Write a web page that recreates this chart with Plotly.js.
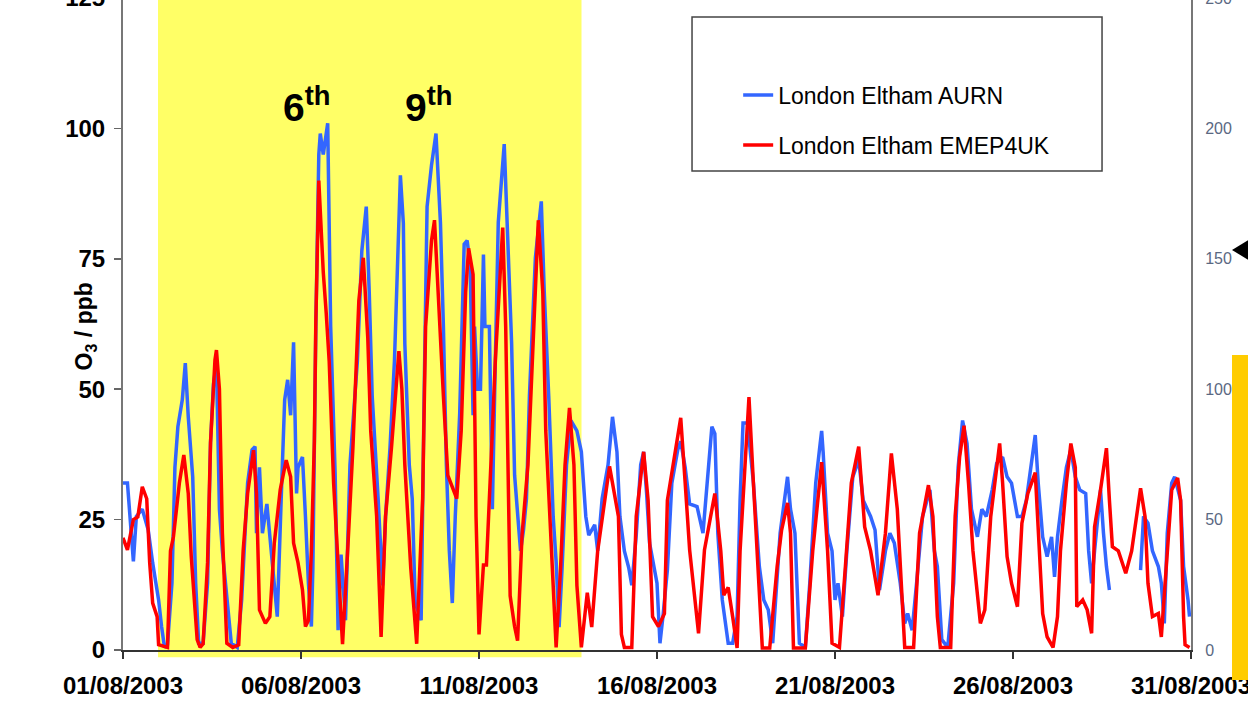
<!DOCTYPE html>
<html><head><meta charset="utf-8">
<script src="https://cdn.plot.ly/plotly-3.0.1.min.js"></script>
<style>
html,body{margin:0;padding:0;overflow:hidden;background:#fff;width:1248px;height:713px}
#chart{position:absolute;left:0;top:-10px;width:1248px;height:725px}
</style>
</head><body><div id="chart"></div>
<script>
// Hours since 01/08/2003 00:00 and O3 (ppb)
const aurnHours = [0,3,7,9,13,17,20,24,26,28,30,33,35,37,40,42,44,47,49,51,54,57,59,61,63,65,67,71,73,77,80,84,87,89,90,92,94,97,99,101,104,107,109,111,113,115,116,117,118,121,123,125,127,128,130,132,133,135,138,139,140,143,145,147,150,153,158,161,164,166,168,172,175,177,180,183,185,187,189,190,193,195,197,201,203,205,208,211,214,216,218,220,222,224,227,230,232,234,236,237,239,241,243,244,247,248,249,251,253,257,259,262,264,268,270,272,274,278,282,284,287,290,292,294,296,299,302,306,309,312,314,318,320,323,327,330,333,335,338,341,343,346,349,351,353,355,360,362,364,367,370,374,376,379,382,387,391,394,397,399,401,404,408,411,414,416,418,421,425,429,432,435,438,443,448,450,453,456,460,463,467,470,471,472,475,478,480,482,485,488,492,496,499,504,507,510,514,517,520,524,527,529,532,535,539,544,547,549,552,556,560,563,566,569,572,576,579,582,586,589,593,596,599,603,606,609,613,615,617,620,623,626,628,630,633,636,639,642,645,649,651,653,655,659,661,663,665,675,686,688,691,694,698,700,702,704,707,709,713,715,718,719];
const aurnValues = [32,32,17,25.6,27,23,16.7,9.6,4.5,0.5,1,12.8,35,42.8,48,55,44.7,33.2,12.8,1.3,1.3,12.8,39.7,51,55,27,19,6.4,1.3,0.5,9.6,32,38.4,39,22.4,35,22.4,28,21.7,16,6.4,32,48,51.8,45,59,45,30,35,37,25.6,12.8,4.5,15.7,62,95,99,95,101,81.8,62,34,3.8,18.3,5.7,35.5,55.4,76.5,85,68.6,48.7,29,12.4,25.6,38.8,55.4,75.2,91,81.8,58.7,35.5,29,9,5.7,48.7,85,93,99,82,62,35.5,19,9,25.6,45.4,77.8,78.5,74,45,62,50,50,75.8,62,62,38.8,27,55.4,82,97,82,58.7,33.5,19,23,29,48.7,75.2,86,68.6,48.7,25.6,17,4.4,15.7,35.5,44,42,38,25.6,22,24,19,29,35.5,44.7,38,25.6,19,15.7,12.4,22,35.5,38,30,20.5,12.8,1.3,6.4,15.3,32,38.4,40,35,28,27.5,22.4,32,42.8,41.5,22.4,9.6,1.3,1.3,6.4,28.7,43.5,43.5,32,16,9.6,7.7,1.3,22.4,33.2,27,22.4,1.3,0.5,12.8,32,39.6,42,38,22.4,19,9.6,12.8,6.4,19,33.2,36.4,28.7,25.6,23,11.5,19,22.4,20.5,12.8,5.1,7,3.8,12.8,25.6,30.7,19,16,2,0.5,12.8,35,44,39.6,27,21.7,27,25.6,30.7,35.8,37,33.2,32,25.6,25.6,28.7,36.4,41.2,32,21.7,17.9,21.7,14,21.7,28.7,35,38.4,33.2,30.7,30,19,12.8,19,30.7,22.4,16,11.5,null,15.3,25.6,24.3,19,16,12.8,5.1,22.4,32,33.2,28.7,16,9.6,6.4];
const emepHours = [0,3,7,10,13,16,18,20,23,24,30,32,34,38,41,44,46,50,52,54,57,59,62,63,65,67,70,74,78,81,84,88,90,92,96,99,102,106,110,113,115,118,121,123,125,127,129,130,132,135,137,139,142,145,148,152,155,159,162,165,167,171,174,177,181,186,188,190,194,198,202,204,208,210,212,216,219,225,228,231,233,236,238,240,243,245,248,251,256,258,261,264,266,269,273,277,280,283,285,290,292,295,298,301,304,306,309,313,316,320,325,328,334,336,338,343,346,351,354,357,361,365,367,376,379,382,388,392,399,403,405,408,411,414,416,421,422,425,429,431,436,441,444,448,450,452,460,465,471,475,478,483,487,491,496,498,500,504,509,514,518,522,525,527,533,537,543,546,549,551,558,561,564,567,570,573,578,581,585,591,593,596,599,603,606,610,615,617,620,623,627,630,632,636,639,642,643,647,650,653,655,659,663,665,667,671,676,680,683,686,689,691,694,698,700,704,707,711,713,715,716,719];
const emepValues = [21.5,19.2,25,25.5,31.3,29,16.7,9,6.4,1,0.5,19,21.7,32,37.4,30,18,2,0.5,1.2,16.7,39.7,55.6,57.5,50,22.4,1.3,0.5,1,19,30,38.3,30,7.7,5.1,6.4,20.5,30.7,36.4,33.2,20.5,16.7,11.5,4.5,5.7,19,40,63,90,72.5,64.6,55.4,32,15.7,1.1,22,38.8,67,75.2,60,42,25.6,2.5,25.6,38.8,57.3,50,35.5,15.7,1.2,29,62,78.5,82.4,70,48.7,33.5,29,42,68.6,77,72,25.6,3,16.3,16.3,35.5,55.4,81,62,10.4,4.5,1.8,22,35.5,62,82.4,68.6,42,12.4,0.5,15.7,35.5,46.4,35.5,12.4,0.5,11,4.4,19,29,35.2,25.6,3,0.5,0.5,25.6,38,28.7,6.4,4.5,7,28.7,44.5,32,19.2,3.2,19.2,30,19,10.5,12,6.4,0.4,19,41.5,48.5,32,12.8,0.4,0.4,16,23,28.2,22.4,0.4,0.4,19,36,19,1.3,0.5,16,32,39,32,23.6,19,10.5,22.4,37.7,27,9.6,0.5,0.5,22.4,31.6,25.6,6.4,0.5,0.5,25.6,37,43,32,19,5.1,7.7,25.6,39.6,32,17.9,12.8,8.3,24.3,30,34,24.3,7,2.5,0.5,6.4,19,32,39.6,35,8.3,9.6,7.7,3.2,23.6,30.7,38.7,28.7,19.8,19,14.7,19,25.6,31,25.6,12.8,6.4,7,2.5,19,30.7,33,28.7,6.4,1,0.5];
const seriesNames = ['London Eltham AURN','London Eltham EMEP4UK'];
const tickDates = ['2003-08-01','2003-08-06','2003-08-11','2003-08-16','2003-08-21','2003-08-26','2003-08-31'];
const tickLabels = ['01/08/2003','06/08/2003','11/08/2003','16/08/2003','21/08/2003','26/08/2003','31/08/2003'];
const leftTicks = [0,25,50,75,100,125];
const rightTicks = [0,50,100,150,200,250];
const dayLabels = ['6<sup>th</sup>','9<sup>th</sup>'];

const start = Date.UTC(2003,7,1,0,0);
function toDate(h){ return new Date(start + h*3600000).toISOString().slice(0,16).replace('T',' '); }

const traces = [
  {x: aurnHours.map(toDate), y: aurnValues, name: seriesNames[0], type:'scatter', mode:'lines',
   line:{color:'#3366FF', width:3.5}, legendgroup:'a'},
  {x: emepHours.map(toDate), y: emepValues, name: seriesNames[1], type:'scatter', mode:'lines',
   line:{color:'#FF0000', width:3.5}, legendgroup:'b'},
  {x: [tickDates[0]], y: [null], yaxis:'y2', showlegend:false, hoverinfo:'skip', mode:'lines'}
];

const FAM = 'Arial, "Liberation Sans", sans-serif';
const bold = {family:FAM, size:24, color:'#000', weight:'bold'};

const layout = {
  width:1248, height:725,
  margin:{l:123, r:57, t:8, b:65},
  paper_bgcolor:'#fff', plot_bgcolor:'rgba(0,0,0,0)',
  showlegend:true,
  legend:{x:0.576, y:0.884, xanchor:'left', yanchor:'top', bgcolor:'rgba(0,0,0,0)', borderwidth:0,
          traceorder:'grouped', tracegroupgap:17,
          font:{family:FAM, size:23, color:'#000'}},
  xaxis:{type:'date', range:['2003-08-01 00:00','2003-08-31 00:00'], tickvals:tickDates, ticktext:tickLabels,
         showgrid:false, zeroline:false, showline:true, linecolor:'#333', linewidth:1.5,
         ticks:'outside', ticklen:7, tickwidth:1.5, tickcolor:'#333', ticklabelstandoff:7,
         ticklabeloverflow:'allow', tickfont:bold, fixedrange:true},
  yaxis:{range:[0,125], tickvals:leftTicks, showgrid:false, zeroline:false, showline:true,
         linecolor:'#777', linewidth:2, ticks:'outside', ticklen:7, tickwidth:1.5, tickcolor:'#666',
         ticklabelstandoff:4, ticklabeloverflow:'allow', tickfont:bold},
  yaxis2:{overlaying:'y', side:'right', range:[0,250], tickvals:rightTicks, showgrid:false, zeroline:false,
          showline:true, linecolor:'#777', linewidth:2, ticks:'', ticklabelstandoff:9, ticklabeloverflow:'allow',
          tickfont:{family:FAM, size:16, color:'#5a6882'}},
  shapes:[
    {type:'rect', xref:'x', yref:'paper', x0:'2003-08-01 23:36', x1:'2003-08-13 21:06', y0:-0.011, y1:1,
     fillcolor:'#FFFF66', line:{width:0}, layer:'below'},
    {type:'rect', xref:'paper', yref:'paper', x0:0.5328, x1:0.9167, y0:0.7347, y1:0.9709,
     fillcolor:'rgba(0,0,0,0)', line:{color:'#444', width:1.5}},
    {type:'rect', xref:'paper', yref:'paper', x0:1.0384, x1:1.06, y0:-0.046, y1:0.4525,
     fillcolor:'#FFCC00', line:{width:0}},
    {type:'path', xref:'paper', yref:'paper', path:'M 1.0384 0.6135 L 1.06 0.6350 L 1.06 0.5920 Z',
     fillcolor:'#000', line:{width:0}}
  ],
  annotations:[
    {xref:'paper', yref:'paper', x:0.1478, y:0.877, text:'<b>'+dayLabels[0]+'</b>', showarrow:false,
     font:{family:FAM, size:39, color:'#000'}},
    {xref:'paper', yref:'paper', x:0.2625, y:0.877, text:'<b>'+dayLabels[1]+'</b>', showarrow:false,
     font:{family:FAM, size:39, color:'#000'}},
    {xref:'paper', yref:'paper', x:-0.0497, y:0.497, text:'<b>O<sub>3</sub> / ppb</b>', textangle:-90,
     showarrow:false, font:{family:FAM, size:23, color:'#000'}}
  ]
};

Plotly.newPlot('chart', traces, layout, {staticPlot:true, displayModeBar:false});
</script>
</body></html>
